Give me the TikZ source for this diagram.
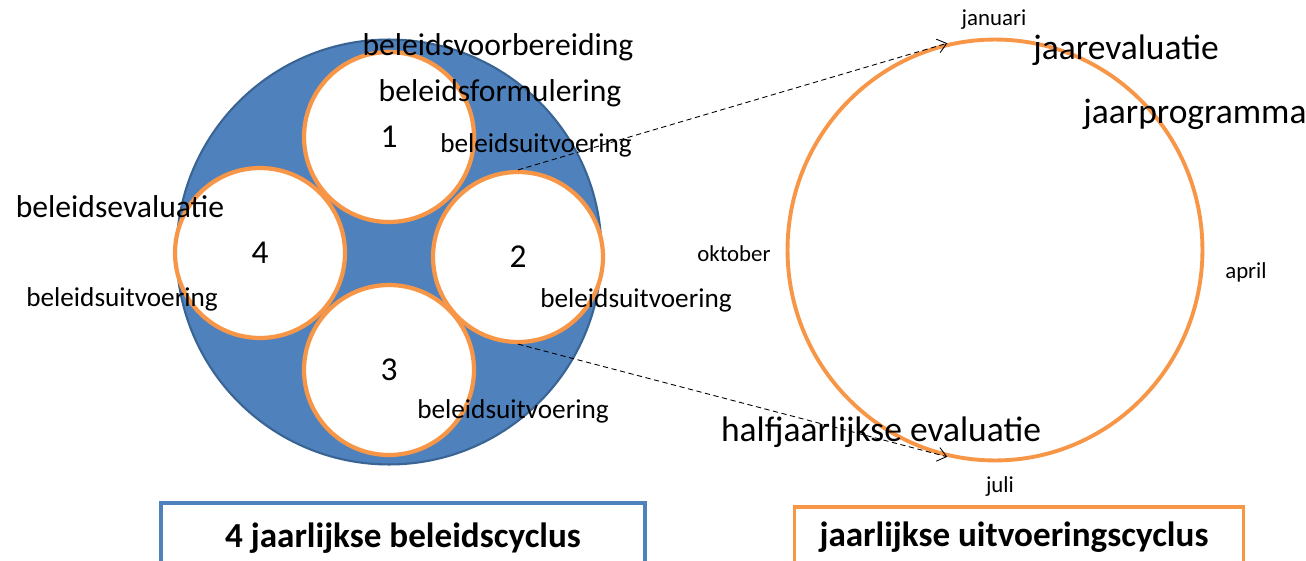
\documentclass[tikz,border=0pt]{standalone}
\usepackage{fontspec}
\setmainfont{Carlito}
\usetikzlibrary{arrows.meta,shapes.geometric}
\definecolor{blueFill}{HTML}{4F81BD}
\definecolor{blueEdge}{HTML}{3A6494}
\definecolor{orangeLine}{HTML}{F79646}
\begin{document}
\begin{tikzpicture}[x=0.02cm, y=-0.02cm,
    smallCycle/.style={circle, draw=orangeLine, fill=white, line width=2.4pt, minimum size=3.4cm, inner sep=0pt, font=\fontsize{19}{21}\selectfont},
    bigLabel/.style={inner sep=0pt, font=\fontsize{18}{20}\selectfont},
    yearLabel/.style={inner sep=0pt, font=\fontsize{20.2}{22}\selectfont},
    smallLabel/.style={inner sep=0pt, font=\fontsize{15.5}{17}\selectfont},
    monthLabel/.style={inner sep=0pt, font=\fontsize{13}{15}\selectfont},
    cycleBox/.style={rectangle, draw, line width=1.8pt, inner sep=0pt, font=\fontsize{20}{22}\selectfont\bfseries},
    linkArrow/.style={densely dashed, line width=0.5pt, -{Straight Barb[length=5pt, width=8pt]}}]
    \clip (0,0) rectangle (1306,561);
    \fill[white] (0,0) rectangle (1306,561);

    % vierjarige cyclus
    \node[circle, draw=blueEdge, fill=blueFill, line width=1.2pt, minimum size=8.5cm, inner sep=0pt](big) at (389,252) {};
    \node[smallCycle](c1) at (389,137) {1};
    \node[smallCycle](c2) at (518,257) {2};
    \node[smallCycle](c3) at (389,370) {3};
    \node[smallCycle](c4) at (260,253) {4};

    \node[bigLabel](voorb) at (498,47) {beleidsvoorbereiding};
    \node[bigLabel](form) at (500,93) {beleidsformulering};
    \node[smallLabel](uitv1) at (536,145) {beleidsuitvoering};
    \node[bigLabel](eval) at (120,207) {beleidsevaluatie};
    \node[smallLabel](uitv4) at (122,299) {beleidsuitvoering};
    \node[smallLabel](uitv2) at (636,300) {beleidsuitvoering};
    \node[smallLabel](uitv3) at (513,411) {beleidsuitvoering};

    % jaarcyclus
    \node[ellipse, draw=orangeLine, line width=2.2pt, minimum width=8.3cm, minimum height=8.42cm, inner sep=0pt](year) at (995,250) {};
    \node[monthLabel](jan) at (994,20) {januari};
    \node[monthLabel](apr) at (1246,272) {april};
    \node[monthLabel](jul) at (1000,487) {juli};
    \node[monthLabel](okt) at (734,254) {oktober};
    \node[yearLabel](jaarev) at (1126,50) {jaarevaluatie};
    \node[yearLabel](jaarpr) at (1195,114) {jaarprogramma};
    \node[yearLabel](half) at (881,432) {halfjaarlijkse evaluatie};

    \draw[linkArrow] (c2.north) -- (year.103);
    \draw[linkArrow] (c2.south) -- (year.-103);

    % titels
    \node[cycleBox, draw=blueFill, minimum width=9.68cm, minimum height=1.4cm](box1) at (403,538) {4 jaarlijkse beleidscyclus};
    \node[cycleBox, draw=orangeLine, minimum width=8.98cm, minimum height=1.2cm](box2) at (1019,537) {jaarlijkse uitvoeringscyclus\hspace*{0.2cm}};
\end{tikzpicture}
\end{document}
